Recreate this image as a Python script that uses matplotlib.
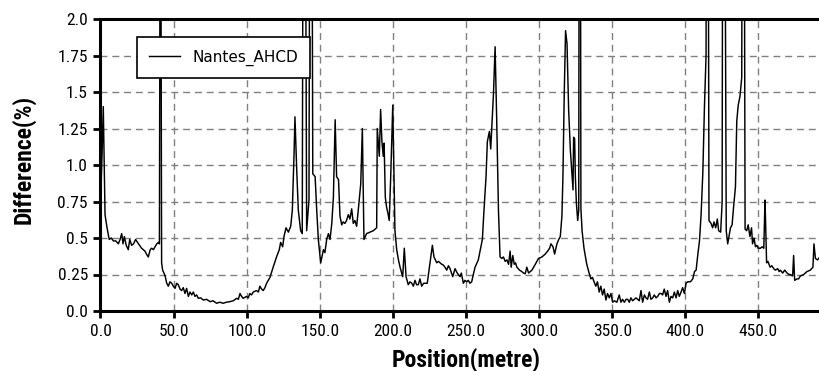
import matplotlib
matplotlib.use('Agg')
import matplotlib.pyplot as plt
from matplotlib import font_manager

# positions along the line (m) and difference values (%)
position = [
    0.0, 1.0, 1.9, 2.6, 3.1, 4.0, 5.0, 6.0, 7.4, 8.8, 10.5, 12.2, 13.4, 14.5,
    15.4, 16.3, 17.6, 19.0, 20.0, 21.3, 22.6, 24.0, 26.0, 28.1, 30.4, 32.0,
    32.7, 34.0, 35.0, 36.2, 37.3, 38.5, 39.6, 40.3, 41.0, 41.8, 42.5, 43.4,
    44.2, 45.3, 46.4, 47.5, 48.7, 49.8, 51.0, 52.1, 53.2, 54.4, 55.5, 56.6,
    57.8, 58.9, 60.1, 61.2, 62.4, 63.5, 64.6, 65.8, 66.9, 68.5, 70.3, 72.6,
    74.9, 77.0, 79.4, 81.5, 84.0, 86.0, 88.5, 90.8, 93.1, 94.3, 95.4, 96.5,
    97.6, 99.9, 101.0, 102.2, 103.3, 104.5, 106.7, 108.0, 109.0, 110.2, 111.3,
    112.5, 113.6, 115.9, 118.1, 120.4, 122.3, 123.2, 124.6, 125.5, 126.9,
    128.5, 130.1, 131.2, 132.4, 133.0, 134.2, 135.3, 136.9, 138.0, 139.2,
    141.0, 142.6, 143.8, 145.2, 146.8, 147.9, 149.0, 150.6, 152.5, 153.5,
    154.7, 155.9, 157.0, 158.2, 159.3, 160.5, 161.5, 162.8, 163.8, 165.0,
    166.0, 167.2, 168.3, 169.5, 170.6, 171.8, 172.9, 174.0, 175.2, 176.3,
    178.0, 179.1, 180.2, 182.0, 184.3, 186.6, 188.9, 189.3, 190.7, 191.6,
    192.5, 193.4, 194.0, 194.8, 195.7, 196.6, 197.5, 198.5, 199.9, 201.4,
    202.6, 203.8, 204.9, 206.7, 207.8, 209.0, 210.5, 211.7, 212.9, 214.0,
    215.1, 216.2, 217.4, 218.5, 219.7, 221.0, 222.0, 223.5, 225.4, 227.0,
    228.1, 230.0, 231.1, 232.2, 233.4, 234.5, 235.6, 236.8, 238.0, 239.1,
    240.9, 242.5, 244.0, 245.9, 246.8, 248.2, 249.3, 250.5, 251.6, 252.7,
    253.9, 255.0, 256.2, 258.4, 260.0, 261.2, 262.3, 263.7, 264.6, 266.0,
    266.9, 267.6, 268.8, 269.9, 271.0, 272.2, 273.3, 274.5, 275.6, 276.8,
    278.0, 279.1, 280.2, 280.9, 282.0, 283.0, 283.9, 284.8, 286.6, 288.2,
    289.3, 290.5, 291.6, 292.8, 294.0, 295.1, 297.4, 299.6, 301.9, 304.2,
    305.8, 307.2, 308.1, 309.5, 310.6, 312.2, 313.4, 314.5, 315.6, 316.3,
    317.2, 318.1, 319.1, 320.2, 321.4, 322.5, 323.2, 323.6, 324.3, 324.8,
    325.5, 326.4, 327.1, 327.8, 328.6, 329.4, 330.7, 332.6, 334.2, 335.4,
    336.5, 337.6, 338.8, 339.9, 341.1, 342.2, 343.4, 344.5, 345.7, 346.8,
    348.0, 349.1, 350.3, 351.4, 353.2, 354.8, 356.0, 357.1, 358.3, 359.5,
    360.6, 361.7, 362.8, 364.0, 365.1, 366.3, 367.4, 368.5, 369.7, 370.8,
    372.0, 373.1, 374.2, 375.4, 376.5, 377.7, 378.8, 380.0, 381.1, 382.3,
    383.4, 384.5, 385.6, 386.8, 387.9, 389.1, 390.2, 391.4, 392.5, 393.7,
    394.8, 395.9, 397.1, 398.2, 399.4, 400.5, 401.7, 403.5, 405.1, 406.3,
    407.4, 408.6, 409.7, 410.8, 412.0, 413.1, 414.2, 415.0, 416.2, 417.6,
    418.7, 419.6, 420.8, 421.9, 422.8, 424.2, 425.2, 426.0, 428.0, 429.0,
    430.0, 430.9, 432.0, 433.1, 434.3, 435.2, 436.2, 437.4, 438.6, 439.6,
    440.9, 442.0, 443.0, 444.2, 445.3, 446.0, 447.0, 448.0, 449.0, 449.8,
    451.4, 452.5, 453.7, 454.5, 455.0, 455.6, 456.5, 458.0, 459.2, 460.5,
    461.6, 463.2, 464.2, 465.0, 466.6, 468.0, 469.6, 470.8, 471.9, 473.4,
    474.1, 474.8, 476.4, 477.5, 478.7, 481.0, 483.2, 485.5, 487.3, 488.0,
    489.0, 490.5, 492.0,
]
difference = [
    0.72, 1.05, 1.40, 0.95, 0.66, 0.60, 0.54, 0.49, 0.50, 0.48, 0.48, 0.46, 0.49, 0.53,
    0.46, 0.51, 0.45, 0.42, 0.49, 0.45, 0.46, 0.49, 0.46, 0.43, 0.41, 0.38,
    0.37, 0.42, 0.43, 0.42, 0.44, 0.46, 0.47, 0.46, 4.0, 0.33, 0.28, 0.26,
    0.24, 0.19, 0.17, 0.20, 0.19, 0.17, 0.155, 0.19, 0.18, 0.15, 0.14, 0.16,
    0.12, 0.155, 0.10, 0.13, 0.11, 0.13, 0.10, 0.11, 0.087, 0.09, 0.075, 0.08,
    0.064, 0.07, 0.053, 0.06, 0.053, 0.06, 0.064, 0.07, 0.087, 0.08, 0.12, 0.10,
    0.087, 0.10, 0.09, 0.12, 0.11, 0.13, 0.14, 0.13, 0.17, 0.15, 0.14,
    0.16, 0.19, 0.23, 0.30, 0.37, 0.42, 0.47, 0.44, 0.51, 0.57,
    0.54, 0.58, 0.69, 1.08, 1.33, 0.97, 0.69, 0.55, 0.53, 6.0,
    0.55, 0.76, 6.0, 0.94, 0.92, 0.69, 0.49, 0.33, 0.42, 0.40,
    0.49, 0.53, 0.49, 0.60, 0.78, 1.31, 0.92, 0.90, 0.65, 0.59,
    0.61, 0.60, 0.62, 0.66, 0.63, 0.70, 0.60, 0.62, 0.58, 0.69,
    0.87, 1.25, 0.49, 0.53, 0.54, 0.55, 0.57, 1.25, 1.06, 1.38,
    1.16, 1.06, 1.15, 0.78, 0.71, 0.67, 0.62, 0.92, 1.41, 0.55,
    0.42, 0.35, 0.30, 0.235, 0.43, 0.235, 0.18, 0.20, 0.19, 0.17,
    0.21, 0.18, 0.18, 0.22, 0.17, 0.19, 0.19, 0.19, 0.33, 0.45,
    0.37, 0.33, 0.34, 0.33, 0.32, 0.315, 0.30, 0.28, 0.31, 0.29,
    0.235, 0.29, 0.26, 0.235, 0.26, 0.19, 0.21, 0.20, 0.21, 0.19,
    0.20, 0.25, 0.30, 0.35, 0.43, 0.49, 0.69, 0.92, 1.16, 1.23,
    1.11, 1.25, 1.49, 1.81, 1.31, 0.69, 0.37, 0.36, 0.37, 0.34,
    0.35, 0.32, 0.41, 0.30, 0.38, 0.32, 0.33, 0.30, 0.28, 0.27,
    0.26, 0.255, 0.30, 0.26, 0.27, 0.28, 0.32, 0.36, 0.37, 0.39,
    0.41, 0.43, 0.46, 0.44, 0.39, 0.46, 0.49, 0.51, 0.65, 0.92,
    1.49, 1.92, 1.83, 1.38, 1.10, 0.94, 0.83, 1.19, 1.18, 0.92,
    0.74, 0.62, 0.69, 6.0, 0.70, 0.55, 0.43, 0.32, 0.26, 0.22,
    0.23, 0.20, 0.17, 0.20, 0.13, 0.17, 0.11, 0.15, 0.075, 0.12,
    0.09, 0.12, 0.06, 0.07, 0.06, 0.11, 0.06, 0.08, 0.06, 0.08,
    0.08, 0.06, 0.09, 0.07, 0.08, 0.09, 0.08, 0.07, 0.14, 0.06,
    0.11, 0.09, 0.08, 0.13, 0.08, 0.09, 0.11, 0.09, 0.10, 0.12,
    0.12, 0.11, 0.15, 0.10, 0.14, 0.06, 0.10, 0.09, 0.13, 0.09,
    0.14, 0.10, 0.13, 0.16, 0.12, 0.19, 0.20, 0.20, 0.22, 0.27,
    0.28, 0.39, 0.48, 0.66, 0.95, 1.40, 1.75, 6.0, 0.62, 0.60,
    0.57, 0.61, 0.57, 0.63, 0.55, 0.54, 0.75, 6.0, 0.55, 0.46,
    0.52, 0.57, 0.59, 0.72, 0.85, 1.30, 1.41, 1.47, 1.60, 6.0,
    0.56, 0.55, 0.59, 0.51, 0.57, 0.46, 0.50, 0.44, 0.45, 0.43,
    0.43, 0.44, 0.43, 0.76, 0.58, 0.33, 0.34, 0.30, 0.31, 0.29,
    0.28, 0.29, 0.27, 0.28, 0.26, 0.28, 0.26, 0.25, 0.25, 0.24,
    0.38, 0.21, 0.22, 0.22, 0.24, 0.25, 0.27, 0.28, 0.30, 0.46,
    0.36, 0.35, 0.37,
]

series_name = "Nantes_AHCD"
x_ticks = [0, 50, 100, 150, 200, 250, 300, 350, 400, 450]
x_tick_labels = ["0.0", "50.0", "100.0", "150.0", "200.0", "250.0",
                 "300.0", "350.0", "400.0", "450.0"]
y_ticks = [0.0, 0.25, 0.5, 0.75, 1.0, 1.25, 1.5, 1.75, 2.0]
y_tick_labels = ["0.0", "0.25", "0.5", "0.75", "1.0", "1.25", "1.5", "1.75", "2.0"]

# pick a narrow face for ticks/labels if one is installed
installed = {f.name for f in font_manager.fontManager.ttflist}
narrow = "DejaVu Sans"
for cand in ["Liberation Sans Narrow", "Roboto Condensed", "DejaVu Sans Condensed"]:
    if cand in installed:
        narrow = cand
        break

fig = plt.figure(figsize=(8.2, 3.71), dpi=100)
# the source picture is cropped on the right: axes run past the figure edge
ax = fig.add_axes([100.5 / 820, 60 / 371, 731 / 820, 292 / 371])

ax.plot(position, difference, color="black", lw=1.05, label=series_name)

ax.set_xlim(0, 500)
ax.set_ylim(0, 2.0)
ax.set_xticks(x_ticks)
ax.set_xticklabels(x_tick_labels, family=narrow, fontsize=12.5)
ax.set_yticks(y_ticks)
ax.set_yticklabels(y_tick_labels, family=narrow, fontsize=12.5)
ax.tick_params(direction="out", length=5, width=2, pad=4, color="black")

ax.grid(True, color="#808080", linestyle=(0, (5, 3.5)), linewidth=1.0)
ax.set_axisbelow(True)

for side in ["left", "bottom", "top", "right"]:
    ax.spines[side].set_linewidth(2.2)

ax.set_xlabel("Position(metre)", family=narrow, fontweight="bold", fontsize=17)
ax.set_ylabel("Difference(%)", family=narrow, fontweight="bold", fontsize=17)
ax.xaxis.set_label_coords(0.5, -0.168)
ax.xaxis.label.set_va("center")
ax.yaxis.set_label_coords(-0.106, 0.52)
ax.yaxis.label.set_va("center")

leg = ax.legend(loc="upper left", bbox_to_anchor=(0.05, 0.938), borderaxespad=0,
                fancybox=False, edgecolor="black", framealpha=1,
                prop={"family": "DejaVu Sans", "size": 11},
                handlelength=2.0, handletextpad=0.8, borderpad=0.8)
leg.get_frame().set_linewidth(1.2)

fig.savefig("out.png", dpi=100)
